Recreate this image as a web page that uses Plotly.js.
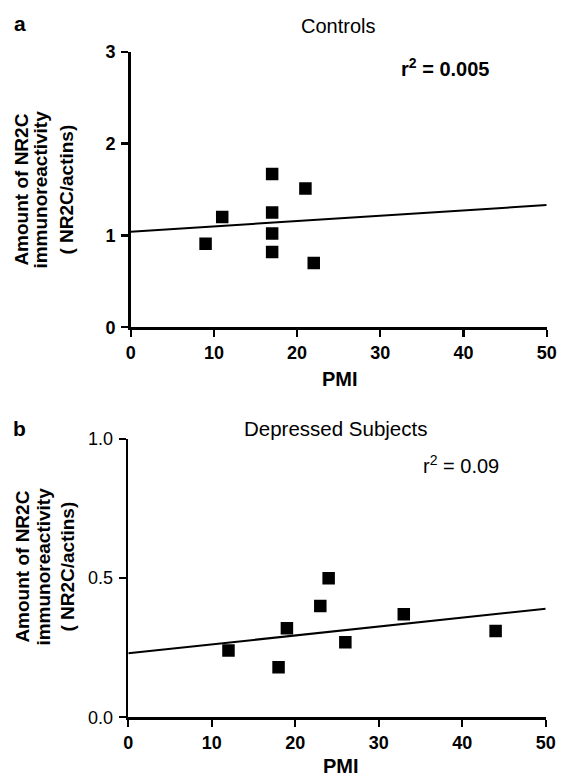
<!DOCTYPE html>
<html>
<head>
<meta charset="utf-8">
<script src="https://cdn.plot.ly/plotly-3.0.1.min.js"></script>
<style>
  html, body { margin: 0; padding: 0; background: #fff; }
  #chart { width: 561px; height: 778px; }
</style>
</head>
<body>
<div id="chart"></div>
<script>
// ---- Data ----
const pmiControls = [9, 11, 17, 17, 17, 17, 21, 22];
const nr2cControls = [0.91, 1.20, 1.67, 1.25, 1.02, 0.82, 1.51, 0.70];
const fitPmi = [0, 50];
const fitControls = [1.04, 1.33];

const pmiDepressed = [12, 18, 19, 23, 24, 26, 33, 44];
const nr2cDepressed = [0.24, 0.18, 0.32, 0.40, 0.50, 0.27, 0.37, 0.31];
const fitDepressed = [0.23, 0.39];

const xTicks = [0, 10, 20, 30, 40, 50];
const yTicksA = [0, 1, 2, 3];
const yTicksB = [0, 0.5, 1.0];
const yTitleLines = ["Amount of NR2C", "immunoreactivity", "( NR2C/actins)"];

// ---- Layout helpers ----
const W = 561, H = 778;
const px = x => x / W;
const py = y => 1 - y / H;
const FONT = "Liberation Sans, Arial, sans-serif";

const markerStyle = { symbol: 'square', size: 12.5, color: '#000' };
const lineStyle = { color: '#000', width: 2 };

const traces = [
  { x: pmiControls, y: nr2cControls, type: 'scatter', mode: 'markers', marker: markerStyle, xaxis: 'x', yaxis: 'y', hoverinfo: 'skip' },
  { x: fitPmi, y: fitControls, type: 'scatter', mode: 'lines', line: lineStyle, xaxis: 'x', yaxis: 'y', hoverinfo: 'skip' },
  { x: pmiDepressed, y: nr2cDepressed, type: 'scatter', mode: 'markers', marker: markerStyle, xaxis: 'x2', yaxis: 'y2', hoverinfo: 'skip' },
  { x: fitPmi, y: fitDepressed, type: 'scatter', mode: 'lines', line: lineStyle, xaxis: 'x2', yaxis: 'y2', hoverinfo: 'skip' }
];

const axisCommon = {
  showline: true, linecolor: '#000', linewidth: 2.6,
  ticks: 'outside', ticklen: 7, tickwidth: 2.2, tickcolor: '#000',
  showgrid: false, zeroline: false, fixedrange: true
};
const boldTick = { family: FONT, size: 18, color: '#000', weight: 'bold' };

const layout = {
  width: W, height: H,
  margin: { l: 0, r: 0, t: 0, b: 0 },
  paper_bgcolor: '#fff', plot_bgcolor: '#fff',
  showlegend: false,
  font: { family: FONT, color: '#000' },
  xaxis: Object.assign({}, axisCommon, {
    domain: [px(130.7), px(546.7)], range: [0, 50], anchor: 'y',
    tickvals: xTicks, tickfont: boldTick
  }),
  yaxis: Object.assign({}, axisCommon, {
    domain: [py(327.3), py(51.7)], range: [0, 3], anchor: 'x',
    tickvals: yTicksA, tickfont: boldTick, ticklabelstandoff: 2
  }),
  xaxis2: Object.assign({}, axisCommon, {
    domain: [px(128.3), px(545.7)], range: [0, 50], anchor: 'y2',
    tickvals: xTicks, tickfont: boldTick
  }),
  yaxis2: Object.assign({}, axisCommon, {
    domain: [py(717.3), py(439)], range: [0, 1.0], anchor: 'x2',
    tickvals: yTicksB, tickformat: '.1f', ticklabelstandoff: 2,
    tickfont: { family: FONT, size: 18, color: '#000' }
  }),
  annotations: []
};

function ann(text, x, y, size, bold, extra) {
  layout.annotations.push(Object.assign({
    text: text, xref: 'paper', yref: 'paper', x: px(x), y: py(y),
    xanchor: 'center', yanchor: 'middle', showarrow: false,
    font: { family: FONT, size: size, color: '#000', weight: bold ? 'bold' : 'normal' }
  }, extra || {}));
}

// Panel a
ann('a', 19.5, 24, 21, true);
ann('Controls', 337.7, 26.5, 20, false);
ann('r<sup>2</sup> = 0.005', 445, 68, 20, true);
ann('PMI', 339.5, 379, 20, true);
[21.6, 40.6, 66.6].forEach((x, i) => ann(yTitleLines[i], x, 190, 19, true, { textangle: -90 }));

// Panel b
ann('b', 19.5, 429, 21, true);
ann('Depressed Subjects', 335.5, 428.5, 20.5, false);
ann('r<sup>2</sup> = 0.09', 461, 464, 20, false);
ann('PMI', 341, 766, 20, true);
[21.6, 42.6, 66.6].forEach((x, i) => ann(yTitleLines[i], x, 567, 19, true, { textangle: -90 }));

Plotly.newPlot('chart', traces, layout, { displayModeBar: false, staticPlot: true });
</script>
</body>
</html>
